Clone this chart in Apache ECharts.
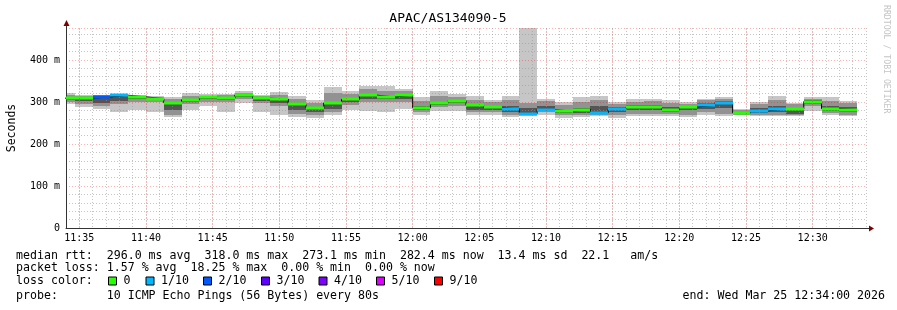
<!DOCTYPE html>
<html><head><meta charset="utf-8">
<script src="https://cdn.jsdelivr.net/npm/echarts@6/dist/echarts.min.js"></script>
<style>html,body{margin:0;padding:0;background:#fff}#c{width:897px;height:310px}</style>
</head><body><div id="c"></div>
<script>
// ---- data ----
const firstStep = '11:33:20';     // start of first 80 s step
const stepSeconds = 80;
const median = [309,309,312,316,312,308,298,305,311,309,317,309,307,294,286,298,306,316,312,316,286,298,303,292,287,283,272,282,278,282,274,283,288,288,282,288,292,298,274,279,283,283,301,284,282];
const lossCount = [0,0,2,1,0,0,0,0,0,0,0,0,0,0,0,0,0,0,0,0,0,0,0,0,0,1,1,1,0,0,1,1,0,0,0,0,1,1,0,1,1,0,0,0,0];
const pingMax = [321,317,317,318,317,313,312,321,319,320,325,317,324,313,305,335,327,337,337,332,311,325,319,313,305,313,477,308,300,311,315,301,308,308,305,301,308,311,284,301,313,298,311,311,303];
const pingMin = [295,287,284,275,281,276,264,282,290,276,298,276,268,264,262,268,282,278,275,284,270,278,279,268,268,263,266,270,262,263,266,262,266,266,266,263,268,266,268,266,266,266,279,268,266];
const midHi = [316,314,316,318,315,312,306,315,315,316,322,314,316,308,298,322,318,330,325,325,303,315,312,305,300,305,298,302,292,300,305,296,300,302,298,296,304,306,282,296,305,295,308,302,298];
const midLo = [300,296,290,296,300,300,270,295,300,300,308,298,290,272,270,275,293,300,300,300,276,288,290,275,275,270,268,276,268,270,270,268,272,272,272,270,276,272,270,270,270,270,290,274,270];
const coreHi = [312,311,314,316,313,309,298,308,312,311,318,310,309,298,289,298,310,318,314,316,290,300,305,293,290,290,285,290,282,285,290,287,292,292,288,291,298,302,277,286,290,285,304,290,288];
const coreLo = [304,303,297,303,306,304,280,300,306,305,312,303,298,280,277,283,300,306,306,307,280,293,297,281,280,276,270,279,273,274,274,277,282,282,276,280,284,285,271,274,276,272,296,279,275];
const xTickLabels = ['11:35','11:40','11:45','11:50','11:55','12:00','12:05','12:10','12:15','12:20','12:25','12:30'];
const yTickValues = [0,100,200,300,400];
const lossLevels = ['0','1/10','2/10','3/10','4/10','5/10','9/10'];
const lossColors = ['#26ff00','#00b8ff','#0059ff','#5e00ff','#7e00ff','#dd00ff','#ff0000'];
const statLines = [
  'median rtt:  296.0 ms avg  318.0 ms max  273.1 ms min  282.4 ms now  13.4 ms sd  22.1   am/s',
  'packet loss: 1.57 % avg  18.25 % max  0.00 % min  0.00 % now'
];
const probeLine = 'probe:       10 ICMP Echo Pings (56 Bytes) every 80s';
const endLine = 'end: Wed Mar 25 12:34:00 2026';
const title = 'APAC/AS134090-5';

// ---- helpers ----
const toMin = s => { const p = s.split(':').map(Number); return p[0]*60 + p[1] + (p[2]||0)/60; };
const t0 = toMin(firstStep), stepMin = stepSeconds/60;
const xMin = toMin('11:34'), xMax = toMin('12:34');
const lossIndex = n => n >= 6 ? 6 : n;
const rows = median.map((m, j) => [t0 + j*stepMin, t0 + (j+1)*stepMin, pingMin[j], pingMax[j], midLo[j], midHi[j], coreLo[j], coreHi[j], m, lossIndex(lossCount[j])]);
const fmtMin = v => Math.floor(v/60) + ':' + String(Math.round(v%60)).padStart(2,'0');
const MONO = 'DejaVu Sans Mono';

function clipTo(params, r){
  const cs = params.coordSys;
  return echarts.graphic.clipRectByRect(r, {x: cs.x, y: cs.y, width: cs.width, height: cs.height});
}
const shades = [[2,3,'#c6c6c6'],[4,5,'#929292'],[6,7,'#555555']];
function renderSmoke(params, api){
  const x0 = api.value(0), x1 = api.value(1);
  const children = [];
  shades.forEach(([lo,hi,c]) => {
    const a = api.coord([x0, api.value(hi)]), b = api.coord([x1, api.value(lo)]);
    const shape = clipTo(params, {x: Math.round(a[0]), y: Math.round(a[1]), width: Math.round(b[0]) - Math.round(a[0]), height: Math.round(b[1]) - Math.round(a[1])});
    if (shape) children.push({type:'rect', shape, style:{fill:c}});
  });
  return {type:'group', children};
}
function renderMedian(params, api){
  const x0 = api.value(0), x1 = api.value(1);
  const a = api.coord([x0, api.value(8)]), b = api.coord([x1, api.value(8)]);
  const shape = clipTo(params, {x: Math.round(a[0]), y: Math.round(a[1]) - 1.5, width: Math.round(b[0]) - Math.round(a[0]), height: 3});
  if (!shape) return null;
  return {type:'rect', shape, style:{fill: lossColors[api.value(9)]}};
}

const stepLine = rows.map(r => [r[0], r[8]]);
stepLine.push([rows[rows.length-1][1], rows[rows.length-1][8]]);

// ---- graphic decorations ----
const graphics = [
  {type:'text', x:448, y:19, style:{text:title, font:'13px '+MONO, fill:'#000', textAlign:'center', textVerticalAlign:'middle'}},
  {type:'text', x:12, y:128, rotation:Math.PI/2, style:{text:'Seconds', font:'11.5px '+MONO, fill:'#000', textAlign:'center', textVerticalAlign:'middle'}},
  {type:'text', x:886, y:5, rotation:-Math.PI/2, style:{text:'RRDTOOL / TOBI OETIKER', font:'8.2px '+MONO, fill:'#c4c4c4', textAlign:'left', textVerticalAlign:'middle'}},
  {type:'line', shape:{x1:66.5, y1:28, x2:66.5, y2:24}, style:{stroke:'#333', lineWidth:1}},
  {type:'line', shape:{x1:866, y1:228.5, x2:870, y2:228.5}, style:{stroke:'#333', lineWidth:1}},
  {type:'polygon', shape:{points:[[63.5,26],[69.5,26],[66.5,20]]}, style:{fill:'#800000'}},
  {type:'polygon', shape:{points:[[869,225.5],[869,231.5],[874,228.5]]}, style:{fill:'#800000'}},
];
statLines.forEach((s, i) => graphics.push({type:'text', x:16, y:255.5 + i*12.8, style:{text:s, font:'11.6px '+MONO, fill:'#000', textVerticalAlign:'middle'}}));
graphics.push({type:'text', x:16, y:281, style:{text:'loss color:', font:'11.6px '+MONO, fill:'#000', textVerticalAlign:'middle'}});
const boxX = [108.5,146,203.5,261.5,319,376.5,434.5];
lossLevels.forEach((lab, i) => {
  graphics.push({type:'rect', shape:{x:boxX[i], y:277, width:8, height:8}, style:{fill:lossColors[i], stroke:'#000', lineWidth:1}});
  graphics.push({type:'text', x:boxX[i]+15, y:281, style:{text:lab, font:'11.6px '+MONO, fill:'#000', textVerticalAlign:'middle'}});
});
graphics.push({type:'text', x:16, y:295.5, style:{text:probeLine, font:'11.6px '+MONO, fill:'#000', textVerticalAlign:'middle'}});
graphics.push({type:'text', x:885, y:295.5, style:{text:endLine, font:'11.6px '+MONO, fill:'#000', textAlign:'right', textVerticalAlign:'middle'}});

const chart = echarts.init(document.getElementById('c'), null, {renderer:'canvas'});
chart.setOption({
  backgroundColor:'#fff',
  animation:false,
  grid:{left:66, top:28, width:800, height:200, containLabel:false},
  xAxis:{type:'value', min:xMin, max:xMax, interval:1,
    axisLine:{show:true, lineStyle:{color:'#333', width:1}},
    axisTick:{show:false},
    axisLabel:{margin:5, color:'#000', fontFamily:MONO, fontSize:10, showMinLabel:true, showMaxLabel:true,
      formatter: v => { const i = xTickLabels.indexOf(fmtMin(v)); return (Math.abs(v%5) < 1e-6 && i >= 0) ? xTickLabels[i] : ''; }},
    splitLine:{show:true, lineStyle:{color:'rgba(150,150,150,0.55)', type:[1,2], width:1}}
  },
  yAxis:{type:'value', min:0, max:476, interval:100,
    axisLine:{show:true, lineStyle:{color:'#333', width:1}},
    axisTick:{show:false},
    axisLabel:{margin:6, color:'#000', fontFamily:MONO, fontSize:10,
      formatter: v => yTickValues.indexOf(v) < 0 ? '' : (v === 0 ? '0' : v + ' m')},
    splitLine:{show:true, lineStyle:{color:'rgba(255,0,0,0.3)', type:[1,2], width:1}},
    minorTick:{show:false, splitNumber:5},
    minorSplitLine:{show:true, lineStyle:{color:'rgba(150,150,150,0.55)', type:[1,2], width:1}}
  },
  series:[
    {type:'custom', name:'smoke', z:-1, renderItem:renderSmoke, data:rows, silent:true},
    {type:'line', name:'vgrid', z:1, data:[], silent:true,
      markLine:{silent:true, symbol:'none', label:{show:false},
        lineStyle:{color:'rgba(255,0,0,0.3)', type:[1,2], width:1},
        data: xTickLabels.map(l => ({xAxis: toMin(l)}))}},
    {type:'line', name:'median', z:3, data:stepLine, step:'end', showSymbol:false, symbol:'none', clip:true,
      lineStyle:{color:'#000', width:1}, silent:true},
    {type:'custom', name:'loss', z:4, renderItem:renderMedian, data:rows, silent:true}
  ],
  graphic:{elements:graphics}
});
</script></body></html>
